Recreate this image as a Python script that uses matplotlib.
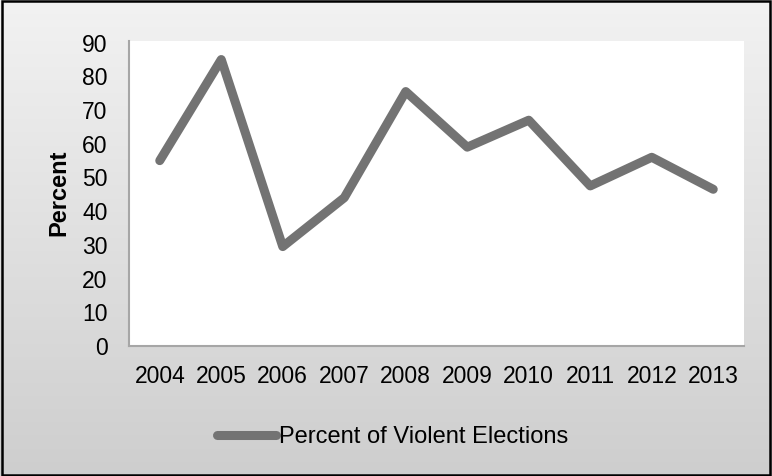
import numpy as np
import matplotlib.pyplot as plt
from matplotlib.colors import LinearSegmentedColormap
from matplotlib.patches import Rectangle

plt.rcParams["font.family"] = ["Liberation Sans", "DejaVu Sans"]

years = ["2004", "2005", "2006", "2007", "2008", "2009", "2010", "2011", "2012", "2013"]
violent_pct = [55, 85, 29.5, 44, 75.5, 59, 67, 47.5, 56, 46.5]
yticks = [0, 10, 20, 30, 40, 50, 60, 70, 80, 90]

line_color = "#737373"

fig = plt.figure(figsize=(7.72, 4.76), dpi=100)

# gradient background, light at top, darker at bottom
bg = fig.add_axes([0, 0, 1, 1], zorder=-10)
grad = np.linspace(0, 1, 256).reshape(-1, 1)
bg_cmap = LinearSegmentedColormap.from_list("bg", ["#f2f2f2", "#cecece"])
bg.imshow(grad, aspect="auto", cmap=bg_cmap, extent=[0, 1, 0, 1], origin="upper")
bg.set_xlim(0, 1)
bg.set_ylim(0, 1)
bg.axis("off")

ax = fig.add_axes([129 / 772, 1 - 346 / 476, 615 / 772, 305 / 476])
ax.set_facecolor("white")
x = np.arange(len(years))
ax.plot(x, violent_pct, color=line_color, lw=6.5, solid_capstyle="round",
        solid_joinstyle="round", label="Percent of Violent Elections")

ax.set_xlim(-0.5, len(years) - 0.5)
ax.set_ylim(0, 90.5)
ax.set_xticks(x)
ax.set_xticklabels(years)
ax.set_yticks(yticks)
ax.tick_params(length=0, labelsize=16.5, colors="black")
ax.tick_params(axis="y", pad=15.5)
ax.tick_params(axis="x", pad=14)
for s in ["top", "right"]:
    ax.spines[s].set_visible(False)
for s in ["left", "bottom"]:
    ax.spines[s].set_color("#a6a6a6")
    ax.spines[s].set_linewidth(1.5)

fig.text(59 / 772, 1 - 193 / 476, "Percent", rotation=90, fontsize=17,
         fontweight="bold", ha="center", va="center")

fig.legend(loc="center left", bbox_to_anchor=(217 / 772, 1 - 437 / 476),
           frameon=False, fontsize=17, handlelength=2.5, handletextpad=0.12,
           borderpad=0, borderaxespad=0)

fig.patches.append(Rectangle((0.002, 0.003), 0.996, 0.994, transform=fig.transFigure,
                             fill=False, edgecolor="black", lw=1.8))

fig.savefig("out.png", dpi=100)
